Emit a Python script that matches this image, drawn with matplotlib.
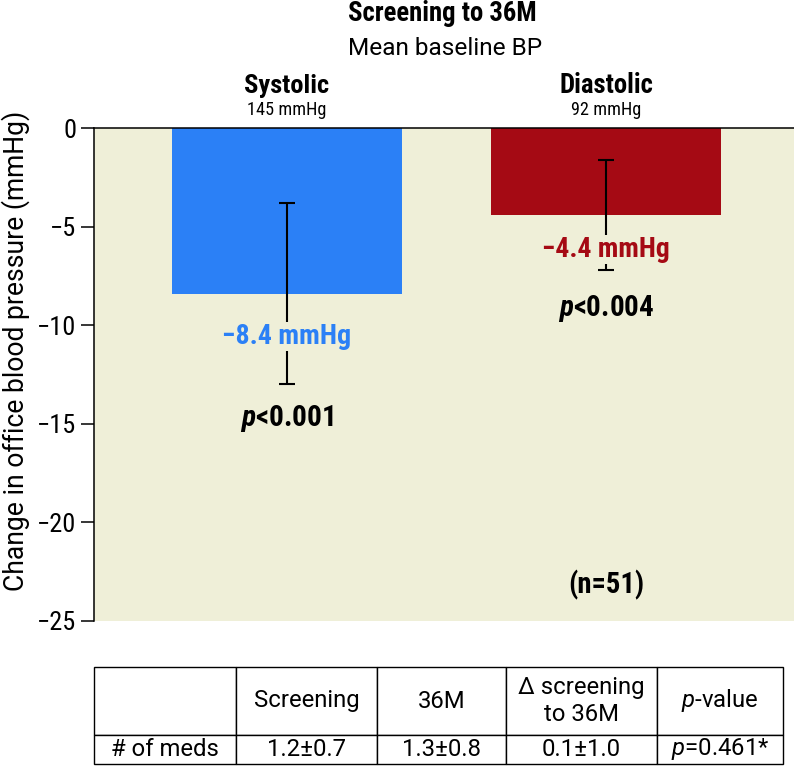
import numpy as np
import matplotlib.pyplot as plt

COND = ['Roboto Condensed', 'DejaVu Sans']
REG = ['Roboto', 'DejaVu Sans']
plt.rcParams['font.family'] = COND
plt.rcParams['mathtext.fontset'] = 'custom'
plt.rcParams['mathtext.it'] = 'Roboto:italic'
plt.rcParams['mathtext.bfit'] = 'Roboto Condensed:italic:bold'
plt.rcParams['mathtext.rm'] = 'Roboto'

# ---- data ----
groups = ['Systolic', 'Diastolic']
baseline = ['145 mmHg', '92 mmHg']
change = [-8.4, -4.4]
err = [4.6, 2.8]
pvals = ['0.001', '0.004']
colors = ['#2b80f6', '#a50a14']
bg = '#efefd8'

tbl_cols = ['', 'Screening', '36M', 'Δ screening\nto 36M', '$p$-value']
tbl_row = ['# of meds', '1.2±0.7', '1.3±0.8', '0.1±1.0', '$p$=0.461*']

fig = plt.figure(figsize=(7.94, 7.68), dpi=100)
ax = fig.add_axes([94/794, 1 - 621/768, 700/794, 493/768])
ax.set_facecolor(bg)
rend = fig.canvas.get_renderer()


def fit(t, target, use_height=False):
    # scale a text so its drawn size matches the reference (pixels)
    bb = t.get_window_extent(rend)
    cur = bb.height if use_height else bb.width
    t.set_fontsize(t.get_fontsize() * target / cur)
    return t


x = np.arange(len(groups))
ax.bar(x, change, width=0.72, color=colors, zorder=2)
ax.errorbar(x, change, yerr=err, fmt='none', ecolor='black', elinewidth=1.5,
            capsize=6, capthick=1.5, zorder=3)

ax.set_xlim(-0.605, 1.589)
ax.set_ylim(-25, 0)
ax.set_yticks([0, -5, -10, -15, -20, -25])
ax.set_yticklabels(['0', '−5', '−10', '−15', '−20', '−25'])
ax.tick_params(axis='y', labelsize=19, length=9.5, width=1.1, pad=3)
ax.set_xticks([])
for s in ['right', 'bottom']:
    ax.spines[s].set_visible(False)
ax.spines['left'].set_linewidth(1.1)
ax.spines['top'].set_linewidth(1.1)

yl = ax.set_ylabel('Change in office blood pressure (mmHg)', fontsize=16,
                   family=REG)
fit(yl, 480, use_height=True)
ax.yaxis.set_label_coords(-0.091, 0.548)

# value labels
lab_y = [-10.95, -6.54]
p_y = [-15.1, -9.53]
lab_w = [129, 128]
p_w = [94, 96]
head_w = [85, 94]
base_w = [79, 70]
for i in range(len(groups)):
    t = ax.text(x[i], lab_y[i], f'−{abs(change[i]):.1f} mmHg', color=colors[i],
                fontsize=18, fontweight='bold', ha='center', va='baseline', zorder=4,
                bbox=dict(facecolor=bg, edgecolor='none', pad=0.5))
    fit(t, lab_w[i])
    t = ax.text(x[i], p_y[i], r'$\mathbfit{p}$<' + pvals[i], fontsize=20,
                fontweight='bold', ha='center', va='baseline', zorder=4)
    fit(t, p_w[i])
    t = ax.text(x[i], 1.77, groups[i], fontsize=20, fontweight='bold',
                ha='center', va='baseline', clip_on=False)
    fit(t, head_w[i])
    t = ax.text(x[i], 0.66, baseline[i], fontsize=12, ha='center', va='baseline',
                clip_on=False)
    fit(t, base_w[i])
t = ax.text(1, -23.6, '(n=51)', fontsize=17, fontweight='bold', ha='center',
            va='baseline')
fit(t, 76)

t = fig.text(442/794, 1 - 21/768, 'Screening to 36M', fontsize=19, fontweight='bold',
             ha='center', va='baseline')
fit(t, 189)
t = fig.text(445/794, 1 - 55/768, 'Mean baseline BP', fontsize=15, family=REG,
             ha='center', va='baseline')
fit(t, 195)

# table
tax = fig.add_axes([94/794, 4/768, 689/794, 97/768])
tax.axis('off')
tb = tax.table(cellText=[tbl_row], colLabels=tbl_cols, cellLoc='center',
               bbox=[0, 0, 1, 1])
tb.auto_set_font_size(False)
widths = [142, 141, 129, 151, 126]
for (r, c), cell in tb.get_celld().items():
    cell.set_width(widths[c])
    cell.set_height(68 if r == 0 else 29)
    cell.set_linewidth(1.0)
    cell.get_text().set_fontfamily(REG)
    cell.get_text().set_fontsize(15)
fig.canvas.draw()
ref = tb[0, 1].get_text()
tsz = 15 * 106 / ref.get_window_extent(rend).width
for cell in tb.get_celld().values():
    cell.get_text().set_fontsize(tsz)

fig.savefig('out.png', dpi=100)
